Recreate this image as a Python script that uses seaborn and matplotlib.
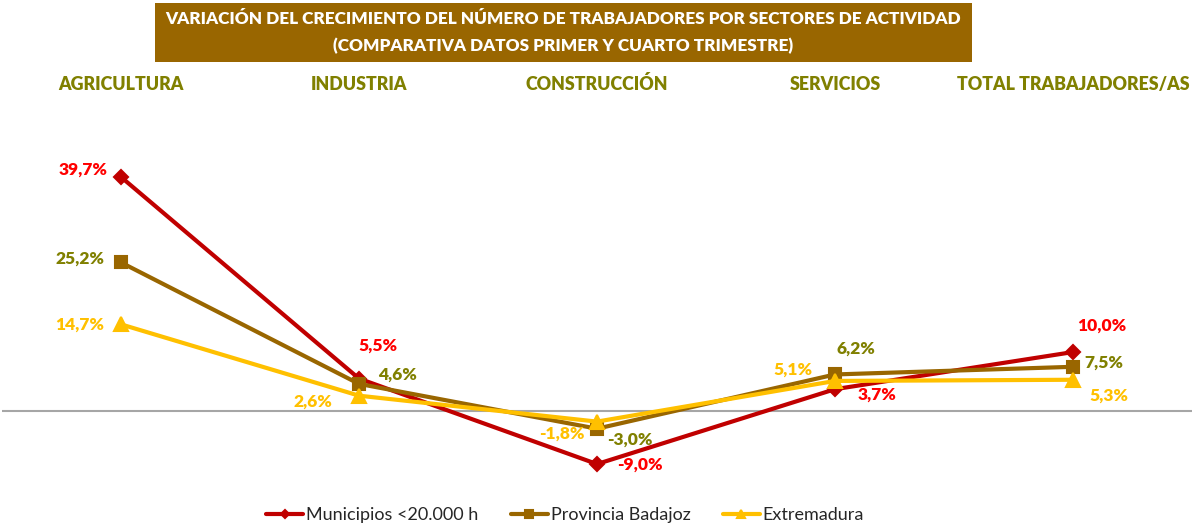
import matplotlib
matplotlib.use("Agg")
import matplotlib.pyplot as plt
from matplotlib.patches import Rectangle
import seaborn as sns
import pandas as pd

# data
categorias = ["AGRICULTURA", "INDUSTRIA", "CONSTRUCCIÓN", "SERVICIOS", "TOTAL TRABAJADORES/AS"]
municipios = [39.7, 5.5, -9.0, 3.7, 10.0]
badajoz = [25.2, 4.6, -3.0, 6.2, 7.5]
extremadura = [14.7, 2.6, -1.8, 5.1, 5.3]
series = ["Municipios <20.000 h", "Provincia Badajoz", "Extremadura"]

rows = []
for name, vals in zip(series, [municipios, badajoz, extremadura]):
    for i, v in enumerate(vals):
        rows.append({"pos": i, "valor": v, "serie": name})
df = pd.DataFrame(rows)

sns.set_style("white")
plt.rcParams['font.family'] = ['Lato', 'DejaVu Sans']

line_col = {"Municipios <20.000 h": "#C00000", "Provincia Badajoz": "#996600", "Extremadura": "#FFC000"}
text_col = {"Municipios <20.000 h": "#FF0000", "Provincia Badajoz": "#808000", "Extremadura": "#FFC000"}
markers = {"Municipios <20.000 h": "D", "Provincia Badajoz": "s", "Extremadura": "^"}
msize = {"Municipios <20.000 h": 7.5, "Provincia Badajoz": 9, "Extremadura": 9.5}

fig = plt.figure(figsize=(11.95, 5.27), dpi=100)
ax = fig.add_axes([2/1195, 1-480/527, 1190/1195, 370/527])

ax.axhline(0, color="#A6A6A6", lw=1.5, zorder=1)
for name in series:
    d = df[df.serie == name]
    sns.lineplot(data=d, x="pos", y="valor", ax=ax, color=line_col[name], lw=3,
                 marker=markers[name], markersize=msize[name],
                 markeredgecolor=line_col[name], markeredgewidth=1.5,
                 sort=False, label=name, zorder=3)

# label offsets in pixels (dx, dy)
offs = {
    "Municipios <20.000 h": [(-38, 7), (19, 33), (43, -1), (42, -5), (29, 26)],
    "Provincia Badajoz": [(-41, 4), (39, 9), (33, -11), (21, 26), (31, 4)],
    "Extremadura": [(-41, 0), (-46, -6), (-35, -12), (-42, 11), (36, -16)],
}
vals = {"Municipios <20.000 h": municipios, "Provincia Badajoz": badajoz, "Extremadura": extremadura}
for name in series:
    for i, v in enumerate(vals[name]):
        ax.annotate(f"{v:.1f}%".replace(".", ","), (i, v), xytext=offs[name][i],
                    textcoords="offset pixels", ha="center", va="center",
                    color=text_col[name], fontsize=12.5, fontweight="heavy", zorder=5)

ax.set_xlim(-0.5, 4.5)
ax.set_ylim(-(480-411)/5.894, (411-110)/5.894)
ax.xaxis.tick_top()
ax.set_xticks(range(len(categorias)))
ax.set_xticklabels(categorias, color="#808000", fontweight="heavy", fontsize=12.8)
ax.tick_params(axis="x", length=0, pad=12)
ax.set_yticks([])
ax.set_xlabel("")
ax.set_ylabel("")
for s in ax.spines.values():
    s.set_visible(False)

h, l = ax.get_legend_handles_labels()
ax.legend(h, l, loc="center", bbox_to_anchor=(0.473, 0.022), bbox_transform=fig.transFigure,
          ncol=3, frameon=False, fontsize=13, handlelength=2.05, handletextpad=0.15,
          columnspacing=1.8, markerscale=0.6)

# title box
fig.patches.append(Rectangle((155/1195, 1-62/527), 817/1195, 59/527, transform=fig.transFigure,
                             facecolor="#996600", edgecolor="none", zorder=0))
fig.text(563/1195, 1-19/527, "VARIACIÓN DEL CRECIMIENTO DEL NÚMERO DE TRABAJADORES POR SECTORES DE ACTIVIDAD",
         ha="center", va="center", color="white", fontsize=12.3, fontweight="heavy")
fig.text(563/1195, 1-46/527, "(COMPARATIVA DATOS PRIMER Y CUARTO TRIMESTRE)",
         ha="center", va="center", color="white", fontsize=12.3, fontweight="heavy")

fig.savefig("out.png", dpi=100)
